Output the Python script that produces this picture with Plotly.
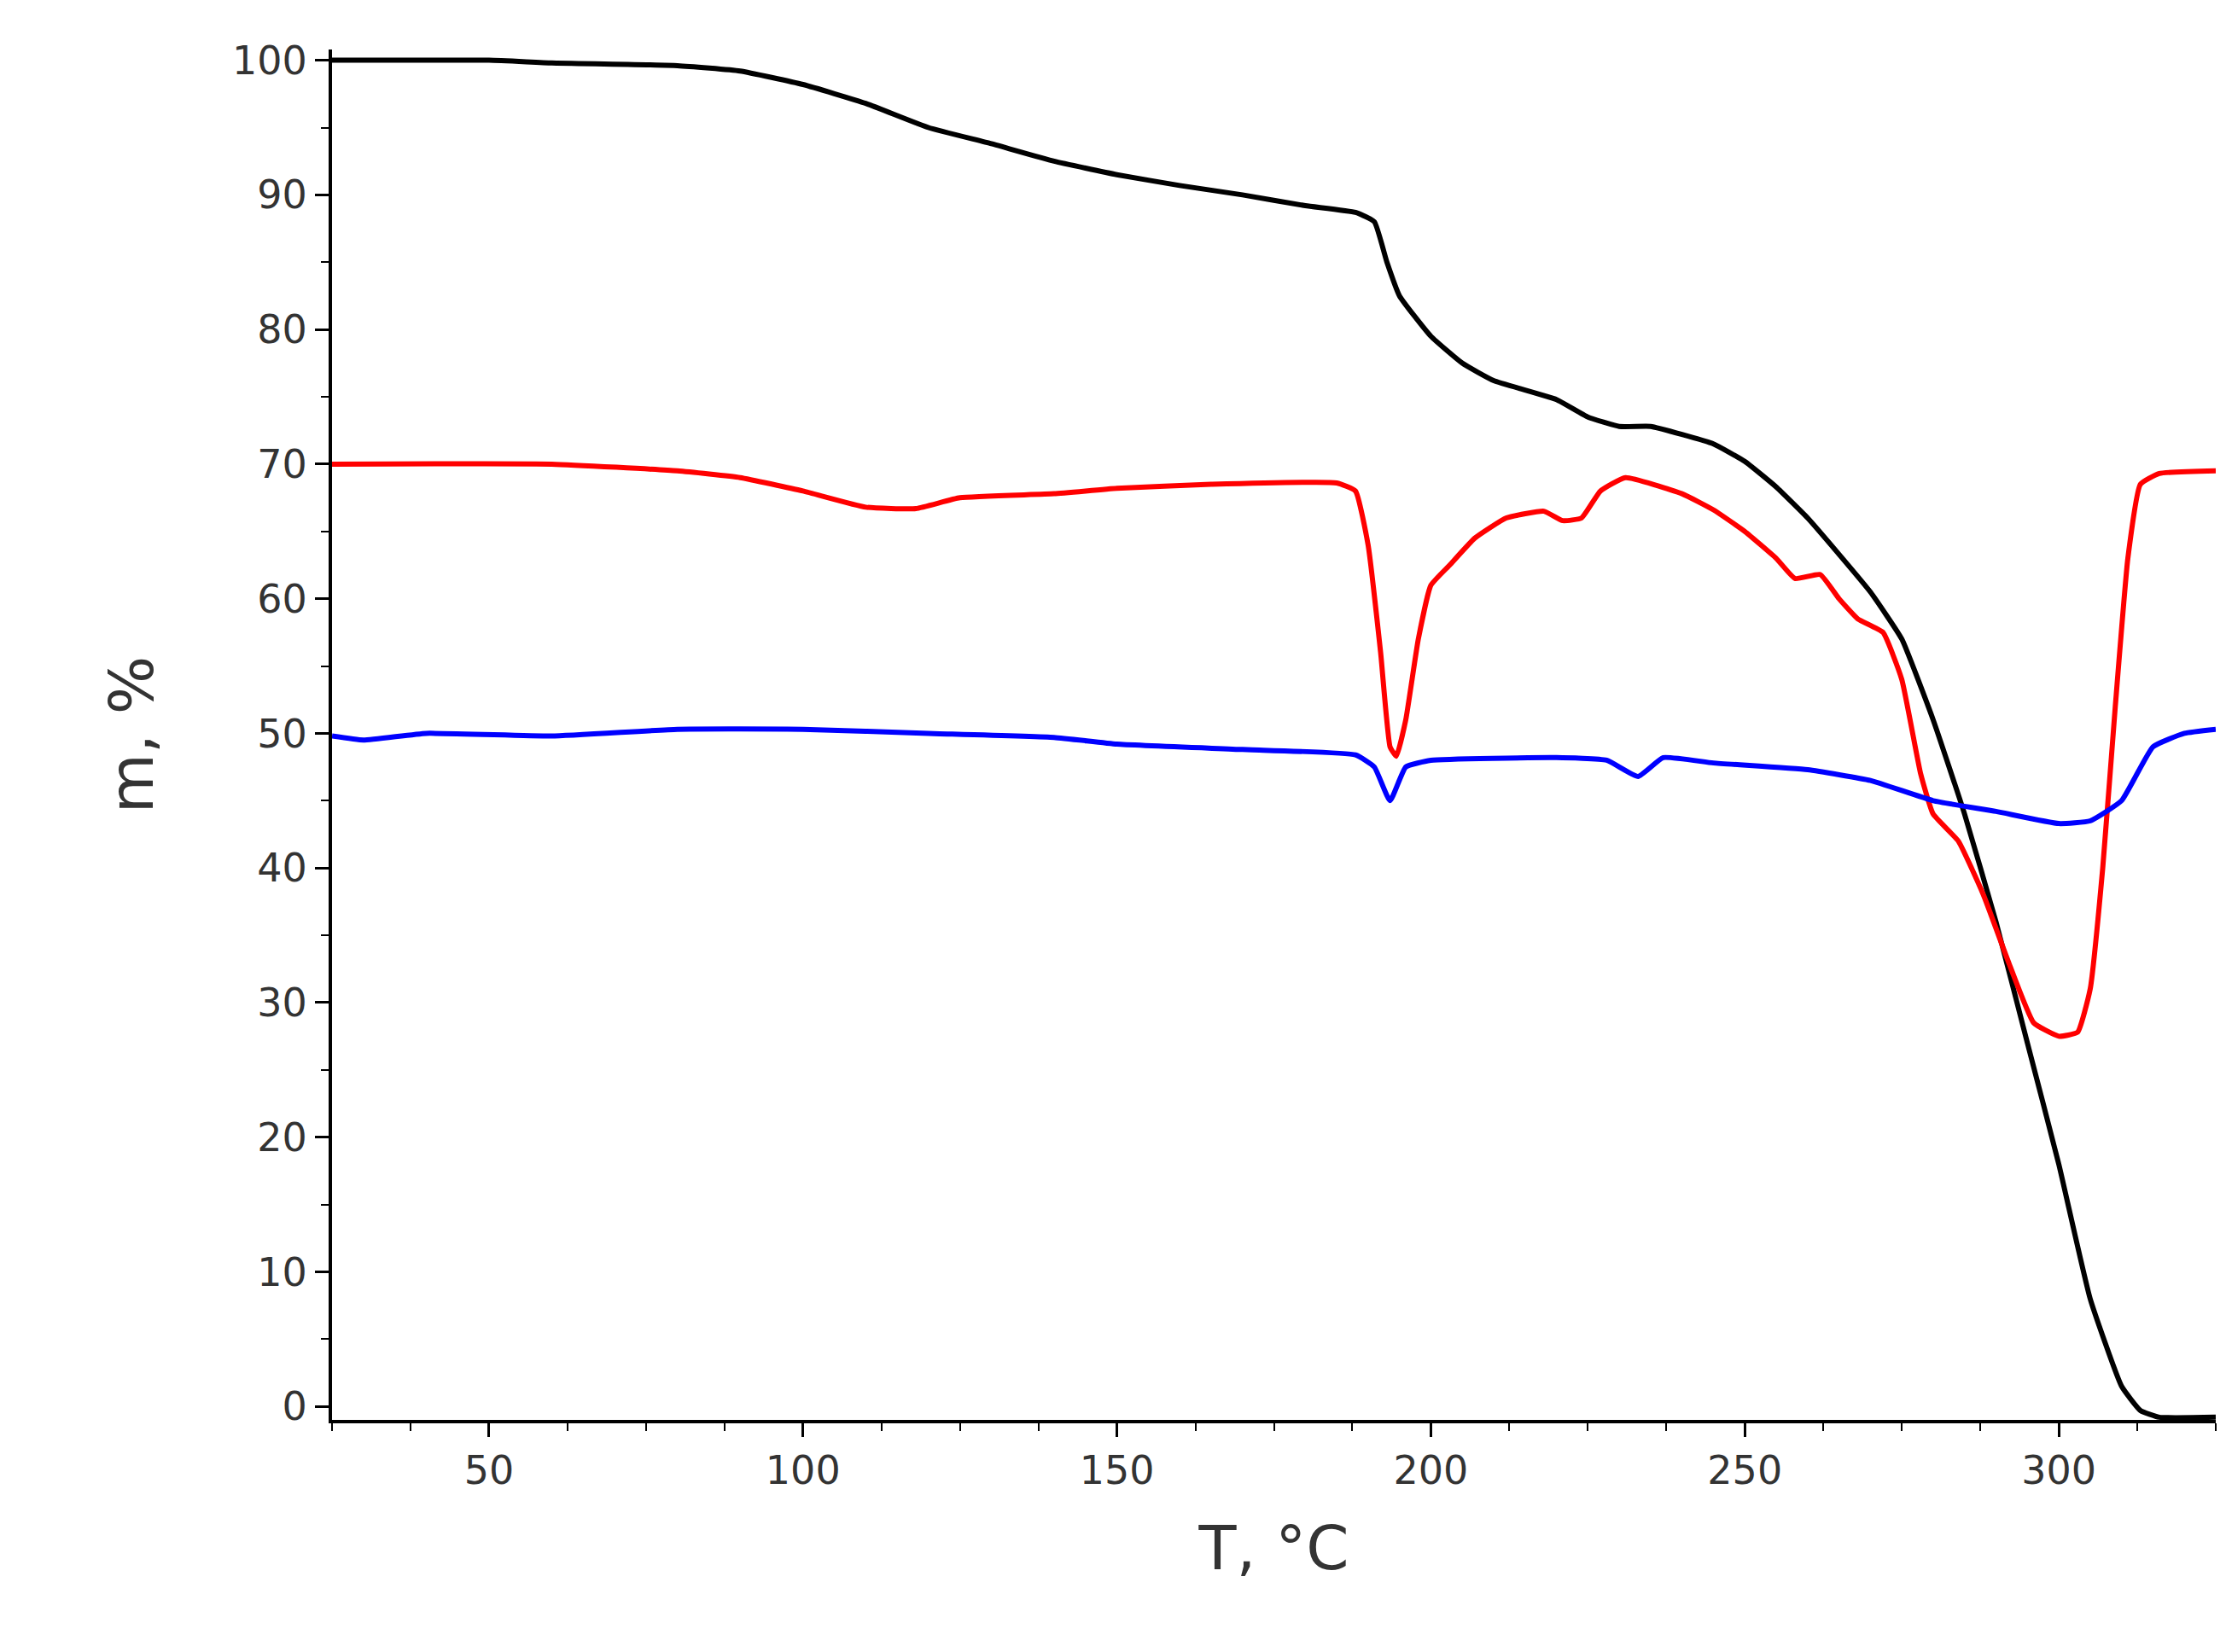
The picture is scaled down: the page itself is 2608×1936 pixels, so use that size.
import plotly.graph_objects as go

black_x = [25,50,60,80,90,100,110,120,130,140,150,160,170,180,188,191,193,195,200,205,210,220,225,230,235,240,245,250,255,260,265,270,275,280,285,290,295,300,305,310,313,316,325]
black_y = [100,100,99.8,99.6,99.2,98.2,96.8,95,93.8,92.5,91.5,90.7,90,89.2,88.7,88,85,82.5,79.5,77.5,76.2,74.8,73.5,72.8,72.8,72.2,71.5,70.2,68.3,66,63.3,60.5,57,51,44,36,27,18,8,1.5,-0.3,-0.8,-0.8]

red_x = [25,60,80,90,100,110,118,125,140,150,165,185,188,190,192,193.5,194.5,196,198,200,203,207,212,218,221,224,227,231,240,245,250,255,258,262,265,268,272,275,278,280,284,288,292,296,300,303,305,307,309,311,313,316,325]
red_y = [70,70,69.5,69,68,66.8,66.7,67.5,67.8,68.2,68.5,68.6,68,64,56,49,48.3,51,57,61,62.5,64.5,66,66.5,65.8,66,68,69,67.8,66.6,65,63,61.5,61.8,60,58.5,57.5,54,47,44,42,38,33,28.5,27.5,27.8,31,40,52,63,68.5,69.3,69.5]

blue_x = [25,30,40,60,80,100,120,140,150,170,188,191,193.5,196,200,220,228,233,237,245,260,270,280,290,300,305,310,315,320,325]
blue_y = [49.8,49.5,50,49.8,50.3,50.3,50,49.7,49.2,48.8,48.4,47.5,45,47.5,48,48.2,48,46.8,48.2,47.8,47.3,46.5,45,44.2,43.3,43.5,45,49,50,50.3]

fig = go.Figure()
for x, y, c in [(black_x, black_y, "black"), (red_x, red_y, "#ff0000"), (blue_x, blue_y, "#0000ff")]:
    fig.add_trace(go.Scatter(x=x, y=y, mode="lines", line=dict(color=c, width=6, shape="spline", smoothing=0.4), showlegend=False))

axis_common = dict(showgrid=False, zeroline=False, showline=True, linecolor="black", linewidth=4,
                   ticks="outside", ticklen=16, tickwidth=3, tickcolor="black",
                   tickfont=dict(family="DejaVu Sans", size=46, color="#333333"))
fig.update_xaxes(range=[25, 325], tickvals=[50,100,150,200,250,300],
                 minor=dict(dtick=12.5, tick0=0, ticks="outside", ticklen=9, tickwidth=2, tickcolor="black"),
                 title=dict(text="T, °C", font=dict(family="DejaVu Sans", size=72, color="#333333"), standoff=40),
                 **axis_common)
fig.update_yaxes(range=[-1, 100.8], tickvals=list(range(0, 101, 10)),
                 minor=dict(dtick=5, tick0=0, ticks="outside", ticklen=9, tickwidth=2, tickcolor="black"),
                 title=dict(text="m, %", font=dict(family="DejaVu Sans", size=72, color="#333333"), standoff=70),
                 **axis_common)
fig.update_layout(width=2608, height=1936, plot_bgcolor="white", paper_bgcolor="white",
                  margin=dict(l=381, r=20, t=50, b=280))
fig.write_html("out.html")
